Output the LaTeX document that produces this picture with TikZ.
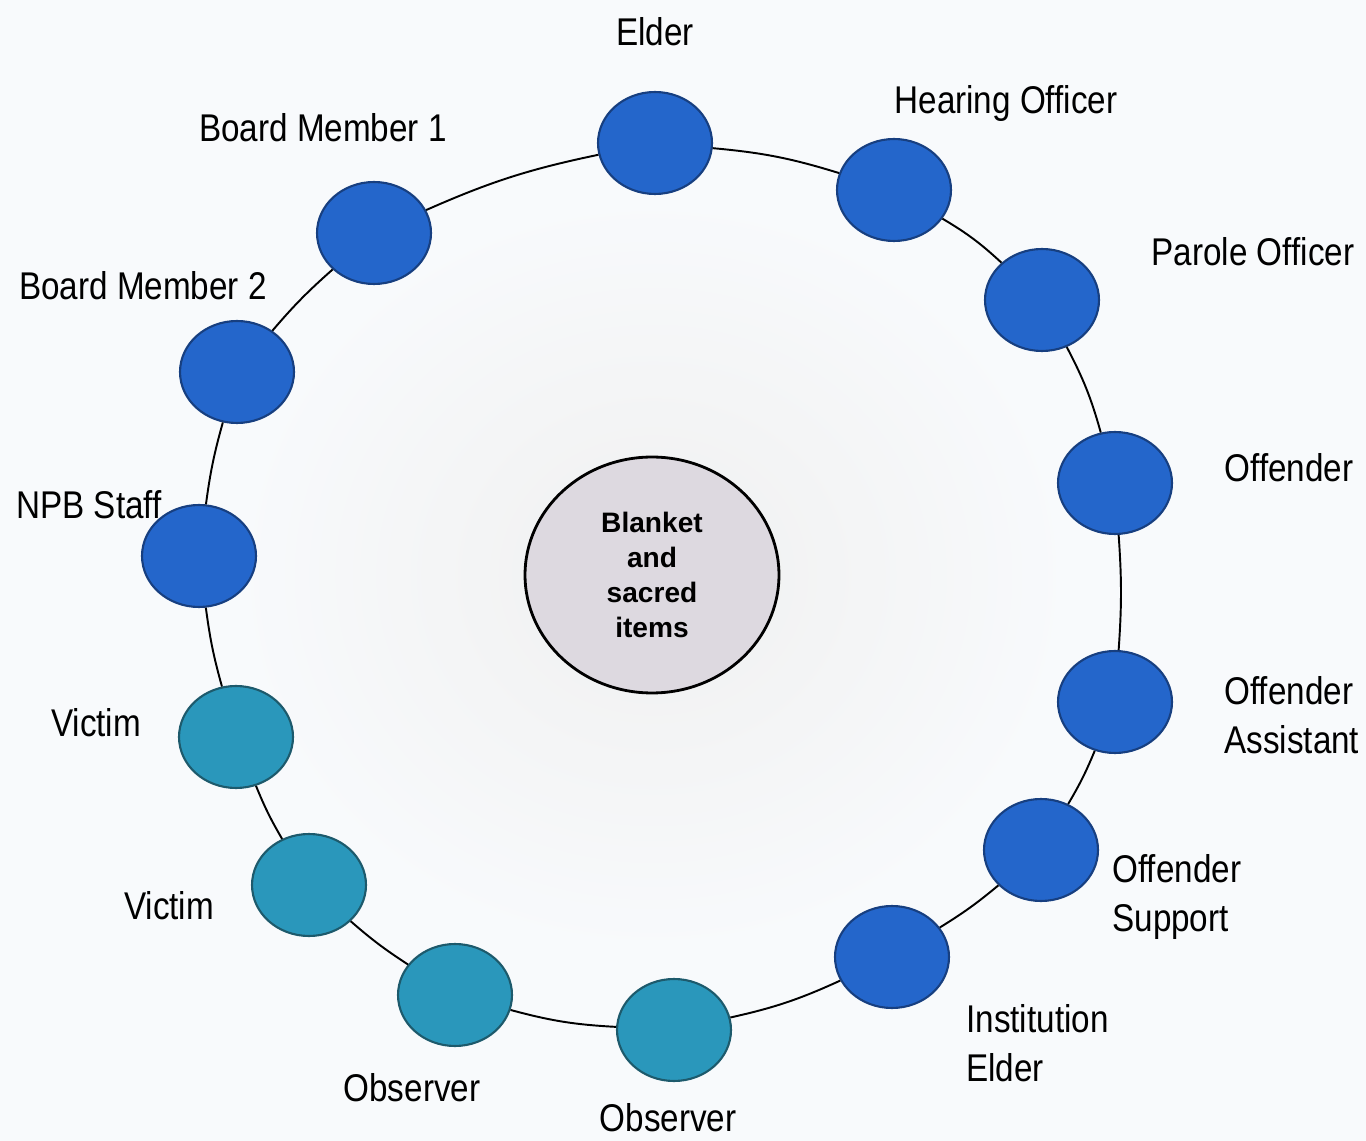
\documentclass[tikz,border=0pt]{standalone}
\usepackage{fontspec}
\setmainfont{Liberation Sans}[FakeStretch=0.86]
\newfontfamily\centerfont{Liberation Sans}
\usetikzlibrary{shapes.geometric}
\definecolor{bgcol}{RGB}{248,250,252}
\definecolor{blueF}{HTML}{2466CB}
\definecolor{blueD}{HTML}{173F80}
\definecolor{tealF}{HTML}{2A97BB}
\definecolor{tealD}{HTML}{1D5A6C}
\definecolor{hubF}{HTML}{DDD9E0}
\tikzset{
  seat/.style={ellipse, minimum width=2.28cm, minimum height=2.04cm, inner sep=0pt, line width=1.2pt},
  blueseat/.style={seat, fill=blueF, draw=blueD},
  tealseat/.style={seat, fill=tealF, draw=tealD},
  hub/.style={ellipse, minimum width=5.08cm, minimum height=4.72cm, inner sep=0pt, fill=hubF, draw=black, line width=1.6pt,
    font=\centerfont\bfseries\fontsize{16}{20}\selectfont, align=center},
  lbl/.style={font=\fontsize{22}{28}\selectfont, text=black, inner sep=0pt},
  ring/.style={draw=black, line width=1.1pt}
}
\begin{document}
\begin{tikzpicture}[x=0.02cm,y=-0.02cm]
\useasboundingbox (0,0) rectangle (1366,1141);
\fill[bgcol] (0,0) rectangle (1366,1141);
\shade[inner color=gray!12, outer color=bgcol, draw=none] (653,575) ellipse (420 and 380);

% hub
\node[hub] (hub) at (652,575) {Blanket\\and\\sacred\\items};

% seats
\node[blueseat] (elder) at (655,143) {};
\node[blueseat] (hear)  at (894,190) {};
\node[blueseat] (parole) at (1042,300) {};
\node[blueseat] (off)   at (1115,483) {};
\node[blueseat] (offa)  at (1115,702) {};
\node[blueseat] (offs)  at (1041,850) {};
\node[blueseat] (inst)  at (892,957) {};
\node[tealseat] (obsb)  at (674,1030) {};
\node[tealseat] (obsl)  at (455,995) {};
\node[tealseat] (vicl)  at (309,885) {};
\node[tealseat] (vicu)  at (236,737) {};
\node[blueseat] (npb)   at (199,556) {};
\node[blueseat] (bmtwo) at (237,372) {};
\node[blueseat] (bmone) at (374,233) {};

% ring connectors
\draw[ring] (elder) to[bend left=6] (hear);
\draw[ring] (hear) to[bend left=6] (parole);
\draw[ring] (parole) to[bend left=6] (off);
\draw[ring] (off) to[bend left=4] (offa);
\draw[ring] (offa) to[bend left=4] (offs);
\draw[ring] (offs) to[bend left=4] (inst);
\draw[ring] (inst) to[bend left=6] (obsb);
\draw[ring] (obsb) to[bend left=6] (obsl);
\draw[ring] (obsl) to[bend left=4] (vicl);
\draw[ring] (vicl) to[bend left=4] (vicu);
\draw[ring] (vicu) to[bend left=4] (npb);
\draw[ring] (npb) to[bend left=4] (bmtwo);
\draw[ring] (bmtwo) to[bend left=4] (bmone);
\draw[ring] (bmone) to[bend left=6] (elder);

% labels
\node[lbl] (lelder) at (655,32) {Elder};
\node[lbl] (lhear) at (1006,104) {Hearing Officer};
\node[lbl] (lbmone) at (323,128) {Board Member 1};
\node[lbl] (lparole) at (1253,252) {Parole Officer};
\node[lbl] (lbmtwo) at (143,286) {Board Member 2};
\node[lbl] (loff) at (1289,468) {Offender};
\node[lbl] (lnpb) at (89,505) {NPB Staff};
\node[lbl, align=left, anchor=west] (loffa) at (1224,715) {Offender\\Assistant};
\node[lbl] (lvicu) at (96,723) {Victim};
\node[lbl, align=left, anchor=west] (loffs) at (1112,897) {Offender\\Support};
\node[lbl] (lvicl) at (169,906) {Victim};
\node[lbl, align=left, anchor=west] (linst) at (966,1043) {Institution\\Elder};
\node[lbl] (lobsl) at (412,1088) {Observer};
\node[lbl] (lobsb) at (668,1118) {Observer};
\end{tikzpicture}
\end{document}
